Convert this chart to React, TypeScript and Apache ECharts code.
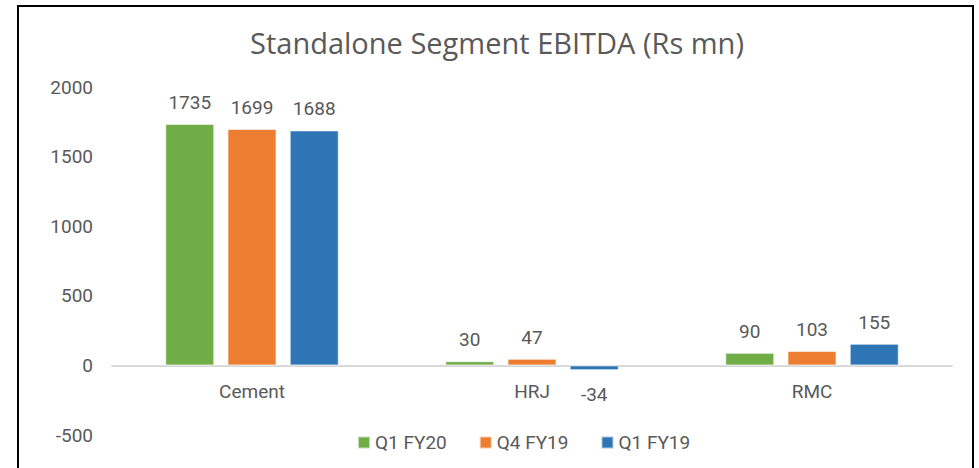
import React, { useEffect, useRef } from "react";
import * as echarts from "echarts";

const categories = ["Cement", "HRJ", "RMC"];
const q1fy20 = [1735, 30, 90];
const q4fy19 = [1699, 47, 103];
const q1fy19 = [1688, -34, 155];
const seriesNames = ["Q1 FY20", "Q4 FY19", "Q1 FY19"];
const colors = ["#70AD47", "#ED7D31", "#2E75B6"];
const yTicks = { min: -500, max: 2000, interval: 500 };

const LABEL_FONT = "'Liberation Sans Narrow', 'Arial Narrow', 'Roboto', sans-serif";
const TEXT = "#595959";

const GRID_TOP = 87;
const GRID_BOTTOM = 33;
const CHART_H = 468;

export default function App() {
  const ref = useRef<HTMLDivElement>(null);
  useEffect(() => {
    if (!ref.current) return;
    const chart = echarts.init(ref.current, undefined, { renderer: "svg" });
    const gridH = CHART_H - GRID_TOP - GRID_BOTTOM;
    const zeroOffset = (gridH * (0 - yTicks.min)) / (yTicks.max - yTicks.min);
    const mk = (name: string, data: number[], color: string) => ({
      name,
      type: "bar",
      barWidth: 49,
      barGap: "27%",
      itemStyle: { color, borderColor: "rgba(255,255,255,0.6)", borderWidth: 1 },
      data: data.map((v) => ({
        value: v,
        label: { position: v < 0 ? "bottom" : "top", distance: v < 0 ? 15 : 12 },
      })),
      label: {
        show: true,
        distance: 12,
        color: TEXT,
        fontFamily: LABEL_FONT,
        fontSize: 19,
      },
    });
    chart.setOption({
      animation: false,
      title: {
        text: "Standalone Segment EBITDA (Rs mn)",
        left: 492,
        textAlign: "center",
        top: 23,
        textStyle: { color: TEXT, fontFamily: "'Open Sans', sans-serif", fontSize: 29, fontWeight: "normal" },
      },
      graphic: [
        {
          type: "rect",
          shape: { x: 18, y: 6, width: 955, height: 520 },
          style: { fill: "none", stroke: "#000", lineWidth: 2 },
          silent: true,
        },
      ],
      legend: {
        left: 352,
        top: 428,
        icon: "rect",
        itemWidth: 12,
        itemHeight: 12,
        itemGap: 32,
        textStyle: { color: TEXT, fontFamily: LABEL_FONT, fontSize: 19 },
        data: seriesNames,
      },
      grid: { left: 112, right: 27, top: GRID_TOP, bottom: GRID_BOTTOM, containLabel: false },
      xAxis: {
        type: "category",
        data: categories,
        offset: -zeroOffset,
        axisLine: { onZero: false, lineStyle: { color: "#D9D9D9", width: 2 } },
        axisTick: { show: false },
        axisLabel: { color: TEXT, fontFamily: LABEL_FONT, fontSize: 19, margin: 17 },
      },
      yAxis: {
        type: "value",
        min: yTicks.min,
        max: yTicks.max,
        interval: yTicks.interval,
        splitLine: { show: false },
        axisLine: { show: false },
        axisTick: { show: false },
        axisLabel: {
          color: TEXT,
          fontFamily: LABEL_FONT,
          fontSize: 19,
          margin: 19,
          formatter: (v: number) => String(v),
        },
      },
      series: [
        mk(seriesNames[0], q1fy20, colors[0]),
        mk(seriesNames[1], q4fy19, colors[1]),
        mk(seriesNames[2], q1fy19, colors[2]),
      ],
    });
    return () => chart.dispose();
  }, []);
  return (
    <div
      ref={ref}
      style={{ position: "fixed", left: 0, top: 0, width: 979, height: 468, background: "#fff" }}
    />
  );
}
